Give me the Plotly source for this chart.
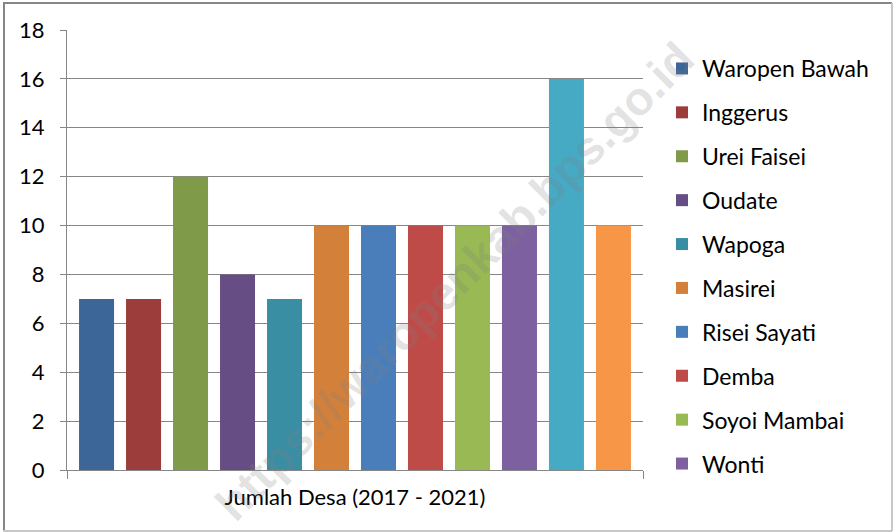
import plotly.graph_objects as go

category = ["Jumlah Desa (2017 - 2021)"]
districts = ["Waropen Bawah", "Inggerus", "Urei Faisei", "Oudate", "Wapoga", "Masirei",
             "Risei Sayati", "Demba", "Soyoi Mambai", "Wonti", "Kirihi", "Walani"]
values = [7, 7, 12, 8, 7, 10, 10, 10, 10, 10, 16, 10]
colors = ["#3C6598", "#9C3D3B", "#7F9A48", "#664E84", "#3A8EA4", "#D3803A",
          "#4A7EBB", "#BE4B48", "#98B954", "#7D60A0", "#46AAC5", "#F79646"]
in_legend = [True] * 10 + [False, False]
y_ticks = [0, 2, 4, 6, 8, 10, 12, 14, 16, 18]

W, H = 893, 532
L, R = 67, 250
pw = W - L - R
PLOT_TOP, PLOT_BOTTOM = 30, 470

def px(x):
    return (x - L) / pw

def py(y):
    return (H - y) / H

fig = go.Figure()
for name, v, c, sl in zip(districts, values, colors, in_legend):
    fig.add_trace(go.Bar(x=category, y=[v], name=name, marker_color=c,
                         marker_line_width=0, legendgroup=name, showlegend=sl))

font = "Lato, 'Open Sans', sans-serif"
fig.update_layout(
    width=W, height=H,
    margin=dict(l=L, r=R, t=0, b=0, pad=0),
    paper_bgcolor="white", plot_bgcolor="white",
    barmode="group", bargap=0.021, bargroupgap=0.255,
    font=dict(family=font, size=21, color="#000000"),
    showlegend=True,
    legend=dict(x=px(662), xanchor="left", y=py(47), yanchor="top",
                font=dict(size=23, family=font, color="#000000"), tracegroupgap=11,
                traceorder="grouped", bgcolor="rgba(0,0,0,0)", itemclick=False),
    xaxis=dict(showline=True, linecolor="#868686", linewidth=1,
               ticks="outside", tickson="boundaries", ticklen=8, tickcolor="#868686",
               tickfont=dict(size=22), showgrid=False, ticklabelstandoff=8,
               automargin=False),
    yaxis=dict(range=[0, 18], tickvals=y_ticks, showgrid=True, gridcolor="#868686",
               gridwidth=1, showline=True, linecolor="#868686", linewidth=1,
               ticks="outside", ticklen=6, tickcolor="#868686", zeroline=False,
               tickfont=dict(size=22), ticklabelstandoff=11, automargin=False,
               domain=[py(PLOT_BOTTOM), py(PLOT_TOP)]),
    shapes=[
        dict(type="line", xref="paper", yref="paper", x0=px(3), x1=px(892), y0=py(3), y1=py(3),
             line=dict(color="#868686", width=2)),
        dict(type="line", xref="paper", yref="paper", x0=px(4), x1=px(4), y0=py(3), y1=py(531),
             line=dict(color="#868686", width=2)),
        dict(type="line", xref="paper", yref="paper", x0=px(892), x1=px(892), y0=py(3), y1=py(531),
             line=dict(color="#C8C8C8", width=2)),
        dict(type="line", xref="paper", yref="paper", x0=px(3), x1=px(892), y0=py(531), y1=py(531),
             line=dict(color="#C8C8C8", width=2)),
    ],
    annotations=[
        dict(text="<b>https://waropenkab.bps.go.id</b>", xref="paper", yref="paper",
             x=px(454), y=py(281), showarrow=False, textangle=-45,
             font=dict(family="Liberation Sans, Arial, sans-serif", size=47,
                       color="rgba(128,128,128,0.22)"),
             xanchor="center", yanchor="middle"),
    ],
)

fig.write_html("out.html", config={"displayModeBar": False},
               post_script="document.body.style.margin='0';document.body.style.padding='0';")
